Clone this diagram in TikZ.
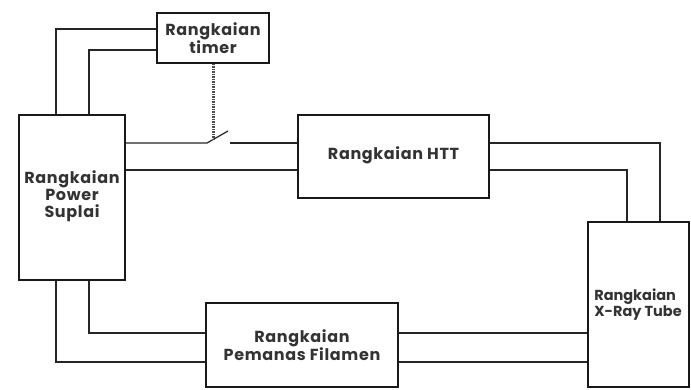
\documentclass[tikz,border=0pt]{standalone}
\usepackage{fontspec}
\setmainfont{Poppins}[LetterSpace=4]
\begin{document}
\begin{tikzpicture}[x=1pt,y=-1pt,
  box/.style={draw=black!90,line width=1.8pt,rectangle,inner sep=0pt,fill=white},
  wire/.style={draw=black!85,line width=1.4pt},
  dotline/.style={draw=black!70,line width=3pt,dash pattern=on 1.5pt off 1pt},
  lbl/.style={font=\fontsize{16}{17}\selectfont\bfseries,align=center,inner sep=0pt,text=black!80}]
\useasboundingbox[fill=white] (0,0) rectangle (691,390);
% boxes
\node[box,minimum width=112pt,minimum height=50pt] (timer) at (213,38) {};
\node[lbl] (timerlbl) at (timer.center) {Rangkaian\\timer};
\node[box,minimum width=106pt,minimum height=165pt] (power) at (72,197.5) {};
\node[lbl] (powerlbl) at ([yshift=1pt]power.center) {Rangkaian\\Power\\Suplai};
\node[box,minimum width=191pt,minimum height=83pt] (htt) at (393.5,156.5) {};
\node[lbl] (httlbl) at ([yshift=1pt]htt.center) {Rangkaian HTT};
\node[box,minimum width=101pt,minimum height=165pt] (xray) at (638.5,304.5) {};
\node[lbl,anchor=west,align=left,font=\fontsize{14.5}{16.5}\selectfont\bfseries\addfontfeature{LetterSpace=0}] (xraylbl) at ([xshift=7pt]xray.west) {Rangkaian\\X-Ray Tube};
\node[box,minimum width=192pt,minimum height=84pt] (fil) at (302,345) {};
\node[lbl] (fillbl) at (fil.center) {Rangkaian\\Pemanas Filamen};
% timer to power
\draw[wire] ([yshift=9pt]timer.west) -| ([xshift=-16pt]power.north);
\draw[wire] ([yshift=-12pt]timer.west) -| ([xshift=17pt]power.north);
% switch
\coordinate (swL) at (207,143);
\coordinate (swT) at (228,131);
\coordinate (swR) at (230,143);
\coordinate (swM) at (213,139.5);
\draw[wire,line width=1.2pt] (swL -| power.east) -- (swL) -- (swT);
\draw[wire,line width=1.2pt] (swR) -- ([yshift=13.5pt]htt.west);
\draw[wire,line width=1.2pt] ([yshift=-13.5pt]htt.west) -- ([yshift=-13.5pt]htt.west -| power.east);
\draw[dotline] (timer.south) -- (swM);
% htt to xray
\draw[wire,line width=1.2pt] ([yshift=13.5pt]htt.east) -| ([xshift=21.5pt]xray.north);
\draw[wire,line width=1.2pt] ([yshift=-13.5pt]htt.east) -| ([xshift=-11.5pt]xray.north);
% power to filament
\draw[wire,line width=1.8pt] ([xshift=17pt]power.south) |- ([yshift=12pt]fil.west);
\draw[wire,line width=1.8pt] ([xshift=-16pt]power.south) |- ([yshift=-17pt]fil.west);
% filament to xray
\draw[wire,line width=1.6pt] ([yshift=12pt]fil.east) -- ([yshift=12pt]fil.east -| xray.west);
\draw[wire,line width=1.6pt] ([yshift=-17pt]fil.east) -- ([yshift=-17pt]fil.east -| xray.west);
\end{tikzpicture}
\end{document}
